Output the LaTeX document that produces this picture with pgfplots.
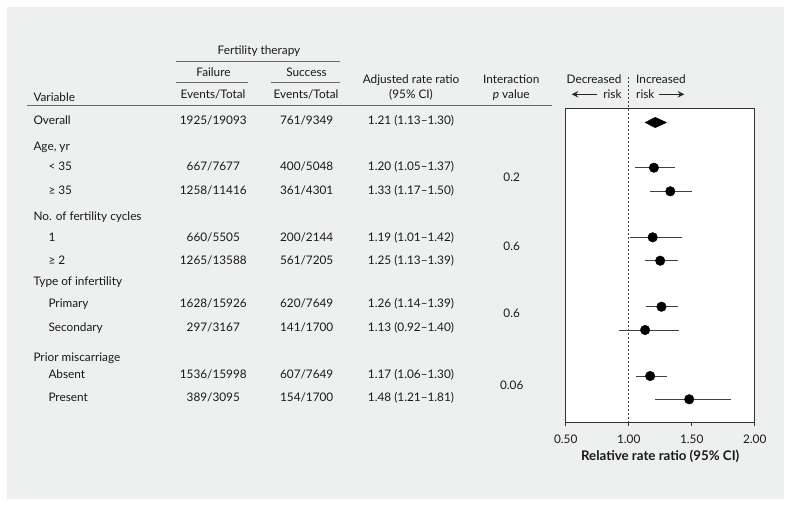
\documentclass[border=0pt]{standalone}
\usepackage{pgfplots}
\pgfplotsset{compat=1.18}
\usepackage{pgfplotstable}
\usepackage{fontspec}
\setmainfont{Lato}
\usetikzlibrary{arrows.meta}
\definecolor{panel}{RGB}{238,239,239}
\definecolor{txt}{RGB}{25,25,25}
\definecolor{rule}{RGB}{105,105,105}

\pgfplotstableread{
x    y     lo   hi
1.20 167.7 1.05 1.37
1.33 191.3 1.17 1.50
1.19 237.3 1.01 1.42
1.25 260.7 1.13 1.39
1.26 306.7 1.14 1.39
1.13 330.0 0.92 1.40
1.17 376.0 1.06 1.30
1.48 399.3 1.21 1.81
}\pts

\begin{document}
\begin{tikzpicture}[x=1pt,y=-1pt,font=\fontsize{11.8}{14}\selectfont,text=txt]
\fill[white] (0,0) rectangle (791,506);
\fill[panel] (6.5,6.5) rectangle (783.5,498.5);

\begin{axis}[
  at={(565.7pt,-422.3pt)}, anchor=south west,
  scale only axis, width=189pt, height=314pt,
  xmin=0.5, xmax=2.0, ymin=108.3, ymax=422.3, y dir=reverse,
  axis background/.style={fill=white},
  axis line style={black!80, line width=0.8pt},
  ytick=\empty,
  xtick={0.5,1,1.5,2}, xticklabels={0.50,1.00,1.50,2.00},
  xtick pos=bottom,
  tick align=outside, major tick length=4pt,
  xtick style={black!80, line width=0.8pt},
  tick label style={font=\fontsize{11.8}{14}\selectfont, text=txt},
  xticklabel style={yshift=-5pt},
  xlabel={\textbf{Relative rate ratio (95\% CI)}},
  xlabel style={font=\fontsize{13.3}{15}\selectfont, text=txt, yshift=0.5pt},
  clip=false,
]
\draw[dashed, black!75, line width=0.6pt, dash pattern=on 2pt off 2pt] (axis cs:1,77) -- (axis cs:1,422.3);
\addplot[fill=black, draw=black] coordinates {(1.13,122.5) (1.21,117.3) (1.30,122.5) (1.21,127.7) (1.13,122.5)};
\addplot[only marks, mark=*, mark size=4.8pt, black,
  error bars/.cd, x dir=both, x explicit,
  error bar style={line width=0.7pt, black!75}, error mark=none]
  table[x=x, y=y, x error plus expr=\thisrow{hi}-\thisrow{x}, x error minus expr=\thisrow{x}-\thisrow{lo}] {\pts};
\end{axis}

% header
\node[anchor=base] at (259,54) {Fertility therapy};
\draw[rule, line width=1.2pt] (175.7,61.3) -- (340.3,61.3);
\node[anchor=base] at (213.5,76) {Failure};
\node[anchor=base] at (306.5,76) {Success};
\draw[rule, line width=1.2pt] (175.7,82.7) -- (247.7,82.7);
\draw[rule, line width=1.2pt] (270.7,82.7) -- (340.3,82.7);
\node[anchor=base] at (213,98) {Events/Total};
\node[anchor=base] at (306,98) {Events/Total};
\node[anchor=base west, inner sep=0pt] at (33.3,101) {Variable};
\node[anchor=base] at (411,83.3) {Adjusted rate ratio};
\node[anchor=base] at (411,98) {(95\% CI)};
\node[anchor=base] at (511.3,83.3) {Interaction};
\node[anchor=base] at (511.3,98) {\textit{p} value};
\draw[rule, line width=1.2pt] (27.3,105.5) -- (551.7,105.5);

\node[anchor=base east, inner sep=0pt] at (621.7,83.3) {Decreased};
\node[anchor=base east, inner sep=0pt] at (621.7,98) {risk};
\node[anchor=base west, inner sep=0pt] at (636,83.3) {Increased};
\node[anchor=base west, inner sep=0pt] at (636,98) {risk};
\draw[-{Stealth[length=6.5pt,width=6.5pt]}, black!85, line width=0.9pt] (597.3,94.3) -- (571.7,94.3);
\draw[-{Stealth[length=6.5pt,width=6.5pt]}, black!85, line width=0.9pt] (659.3,94.3) -- (684.3,94.3);

% rows
\foreach \lab/\yy/\ind/\fa/\su/\rr in {
  Overall/120.7/0/1925\slash 19093/761\slash 9349/1.21 (1.13--1.30),
  {Age, yr}/146.7/0///,
  {< 35}/166.7/1/667\slash 7677/400\slash 5048/1.20 (1.05--1.37),
  {≥ 35}/190/1/1258\slash 11416/361\slash 4301/1.33 (1.17--1.50),
  {No. of fertility cycles}/216/0///,
  1/237.7/1/660\slash 5505/200\slash 2144/1.19 (1.01--1.42),
  {≥ 2}/260.7/1/1265\slash 13588/561\slash 7205/1.25 (1.13--1.39),
  {Type of infertility}/281.7/0///,
  Primary/303.3/1/1628\slash 15926/620\slash 7649/1.26 (1.14--1.39),
  Secondary/327.3/1/297\slash 3167/141\slash 1700/1.13 (0.92--1.40),
  {Prior miscarriage}/357.3/0///,
  Absent/374.3/1/1536\slash 15998/607\slash 7649/1.17 (1.06--1.30),
  Present/397.3/1/389\slash 3095/154\slash 1700/1.48 (1.21--1.81)%
}{
  \node[anchor=base west, inner sep=0pt] at ({33.3+15*\ind},\yy+4.2) {\lab};
  \node[anchor=base] at (213.3,\yy+4.2) {\fa};
  \node[anchor=base] at (306.7,\yy+4.2) {\su};
  \node[anchor=base] at (411,\yy+4.2) {\rr};
}
\node[anchor=base] at (511.7,181.2) {0.2};
\node[anchor=base] at (511.7,250.9) {0.6};
\node[anchor=base] at (511.7,317.9) {0.6};
\node[anchor=base] at (511.7,389.5) {0.06};
\end{tikzpicture}
\end{document}
